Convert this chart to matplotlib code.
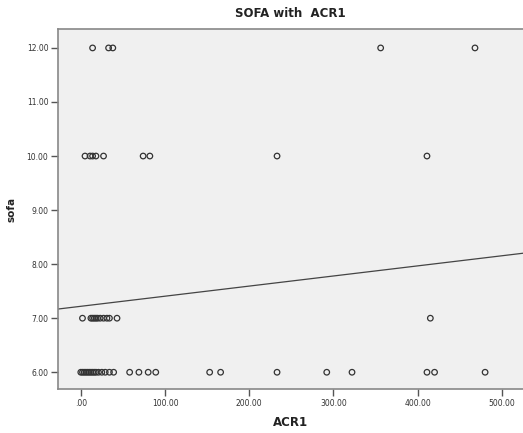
import matplotlib
matplotlib.use("Agg")
import matplotlib.pyplot as plt
import numpy as np

# Data
acr1_sofa6 = [0, 2, 4, 6, 8, 10, 12, 14, 16, 18, 21, 25, 29, 34, 39,
              58, 69, 80, 89, 153, 166, 233, 292, 322, 411, 420, 480]
acr1_sofa7 = [2, 12, 14, 16, 18, 20, 23, 27, 31, 34, 43, 415]
acr1_sofa10 = [5, 11, 14, 18, 27, 74, 82, 233, 411]
acr1_sofa12 = [14, 33, 38, 356, 468]

sofa_levels = [6, 7, 10, 12]
x_ticks = [0, 100, 200, 300, 400, 500]
x_tick_labels = [".00", "100.00", "200.00", "300.00", "400.00", "500.00"]
y_ticks = [6, 7, 8, 9, 10, 11, 12]
y_tick_labels = ["6.00", "7.00", "8.00", "9.00", "10.00", "11.00", "12.00"]

fit_intercept = 7.22
fit_slope = 0.00187

x = np.array(acr1_sofa6 + acr1_sofa7 + acr1_sofa10 + acr1_sofa12, dtype=float)
y = np.array([sofa_levels[0]] * len(acr1_sofa6) + [sofa_levels[1]] * len(acr1_sofa7)
             + [sofa_levels[2]] * len(acr1_sofa10) + [sofa_levels[3]] * len(acr1_sofa12),
             dtype=float)

fig = plt.figure(figsize=(5.23, 4.33), dpi=100)
ax = fig.add_axes([0.111, 0.1016, 0.889, 0.8314])
ax.set_facecolor("#f0f0f0")

ax.scatter(x, y, s=16, facecolors="none", edgecolors="#333333", linewidths=0.9, zorder=3)

xlim = (-27, 525)
ax.set_xlim(*xlim)
ax.set_ylim(5.69, 12.35)
xl = np.array(xlim, dtype=float)
ax.plot(xl, fit_intercept + fit_slope * xl, color="#444444", linewidth=0.9, zorder=2)

ax.set_xticks(x_ticks)
ax.set_xticklabels(x_tick_labels)
ax.set_yticks(y_ticks)
ax.set_yticklabels(y_tick_labels)
ax.tick_params(axis="both", direction="out", length=5, width=1.0, color="#555555",
               labelsize=5.5, labelcolor="#333333", pad=2)

for side in ["left", "bottom", "top"]:
    ax.spines[side].set_color("#888888")
    ax.spines[side].set_linewidth(1.2)
ax.spines["right"].set_visible(False)

ax.set_title("SOFA with  ACR1", fontsize=8.5, fontweight="bold", color="#222222", pad=9)
ax.set_xlabel("ACR1", fontsize=8.5, fontweight="bold", color="#222222", labelpad=6)
ax.set_ylabel("sofa", fontsize=7.5, fontweight="bold", color="#222222", labelpad=7)

fig.savefig("out.png", dpi=100, facecolor="white")
